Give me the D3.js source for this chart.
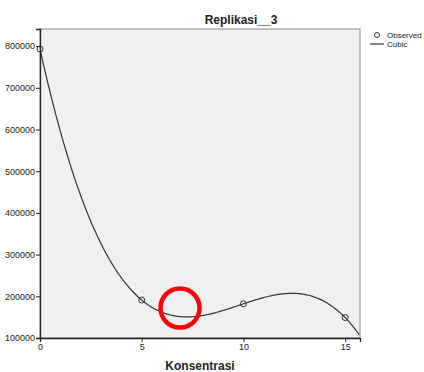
<!DOCTYPE html>
<html>
<head>
<meta charset="UTF-8">
<script src="https://cdn.jsdelivr.net/npm/d3@7"></script>
<style>
  body { margin: 0; background: #fff; }
  text { font-family: "Liberation Sans", Arial, sans-serif; fill: #222; }
</style>
</head>
<body>
<div id="chart"></div>
<script>
const konsentrasi = [0, 5, 10, 15];
const observed = [793000, 191000, 182000, 149000];
const xTicks = [0, 5, 10, 15];
const yTicks = [100000, 200000, 300000, 400000, 500000, 600000, 700000, 800000];

const width = 424, height = 372;
const m = { left: 40, top: 29, right: 360, bottom: 338 };

const svg = d3.select("#chart").append("svg")
  .attr("width", width)
  .attr("height", height);

const x = d3.scaleLinear().domain([0, 15.73]).range([m.left, m.right]);
const y = d3.scaleLinear().domain([100000, 841000]).range([m.bottom, m.top]);

// cubic through the observed points (least squares with 4 points = exact fit)
function cubicFit(xs, ys) {
  // Newton divided differences
  const c = ys.slice();
  for (let j = 1; j < xs.length; j++)
    for (let i = xs.length - 1; i >= j; i--)
      c[i] = (c[i] - c[i - 1]) / (xs[i] - xs[i - j]);
  return t => {
    let v = c[c.length - 1];
    for (let i = c.length - 2; i >= 0; i--) v = v * (t - xs[i]) + c[i];
    return v;
  };
}
const fit = cubicFit(konsentrasi, observed);

// plot background
svg.append("rect")
  .attr("x", m.left).attr("y", m.top)
  .attr("width", m.right - m.left).attr("height", m.bottom - m.top)
  .attr("fill", "#f0f0f0")
  .attr("stroke", "#8c8c8c");

svg.append("clipPath").attr("id", "clip")
  .append("rect")
  .attr("x", m.left).attr("y", m.top)
  .attr("width", m.right - m.left).attr("height", m.bottom - m.top);

// fitted line
const curve = d3.range(0, 15.73 + 0.001, 0.05).map(t => [t, fit(t)]);
svg.append("path")
  .datum(curve)
  .attr("clip-path", "url(#clip)")
  .attr("fill", "none")
  .attr("stroke", "#333")
  .attr("stroke-width", 1.2)
  .attr("d", d3.line().x(d => x(d[0])).y(d => y(d[1])));

// observed points
svg.append("g")
  .selectAll("circle")
  .data(konsentrasi)
  .join("circle")
  .attr("cx", d => x(d))
  .attr("cy", (d, i) => y(observed[i]))
  .attr("r", 3)
  .attr("fill", "none")
  .attr("stroke", "#333")
  .attr("stroke-width", 1);

// axes
const xAxis = svg.append("g")
  .attr("transform", `translate(0,${m.bottom})`)
  .call(d3.axisBottom(x).tickValues(xTicks).tickSize(4).tickPadding(2));
const yAxis = svg.append("g")
  .attr("transform", `translate(${m.left},0)`)
  .call(d3.axisLeft(y).tickValues(yTicks).tickSize(4).tickPadding(1).tickFormat(d3.format("d")));

[xAxis, yAxis].forEach(a => {
  a.select(".domain").attr("stroke", "#222").attr("stroke-width", 1.3);
  a.selectAll(".tick line").attr("stroke", "#222");
  a.selectAll("text").attr("font-size", 9).attr("fill", "#222")
    .style("font-family", "'Liberation Sans', Arial, sans-serif");
});

// title and axis label
svg.append("text")
  .attr("x", 241).attr("y", 24)
  .attr("text-anchor", "middle")
  .attr("font-size", 12).attr("font-weight", "bold")
  .text("Replikasi__3");

svg.append("text")
  .attr("x", 200).attr("y", 370)
  .attr("text-anchor", "middle")
  .attr("font-size", 12).attr("font-weight", "bold")
  .text("Konsentrasi");

// legend
const lg = svg.append("g");
lg.append("circle")
  .attr("cx", 377).attr("cy", 35).attr("r", 2.5)
  .attr("fill", "none").attr("stroke", "#333");
lg.append("text").attr("x", 387).attr("y", 38).attr("font-size", 8).text("Observed");
lg.append("line")
  .attr("x1", 370).attr("x2", 384).attr("y1", 44).attr("y2", 44)
  .attr("stroke", "#333").attr("stroke-width", 1.2);
lg.append("text").attr("x", 387).attr("y", 47).attr("font-size", 8).text("Cubic");

// red highlight ring
svg.append("circle")
  .attr("cx", 180).attr("cy", 308)
  .attr("r", 19.5)
  .attr("fill", "none")
  .attr("stroke", "#ff0000")
  .attr("stroke-width", 4.5);
</script>
</body>
</html>
